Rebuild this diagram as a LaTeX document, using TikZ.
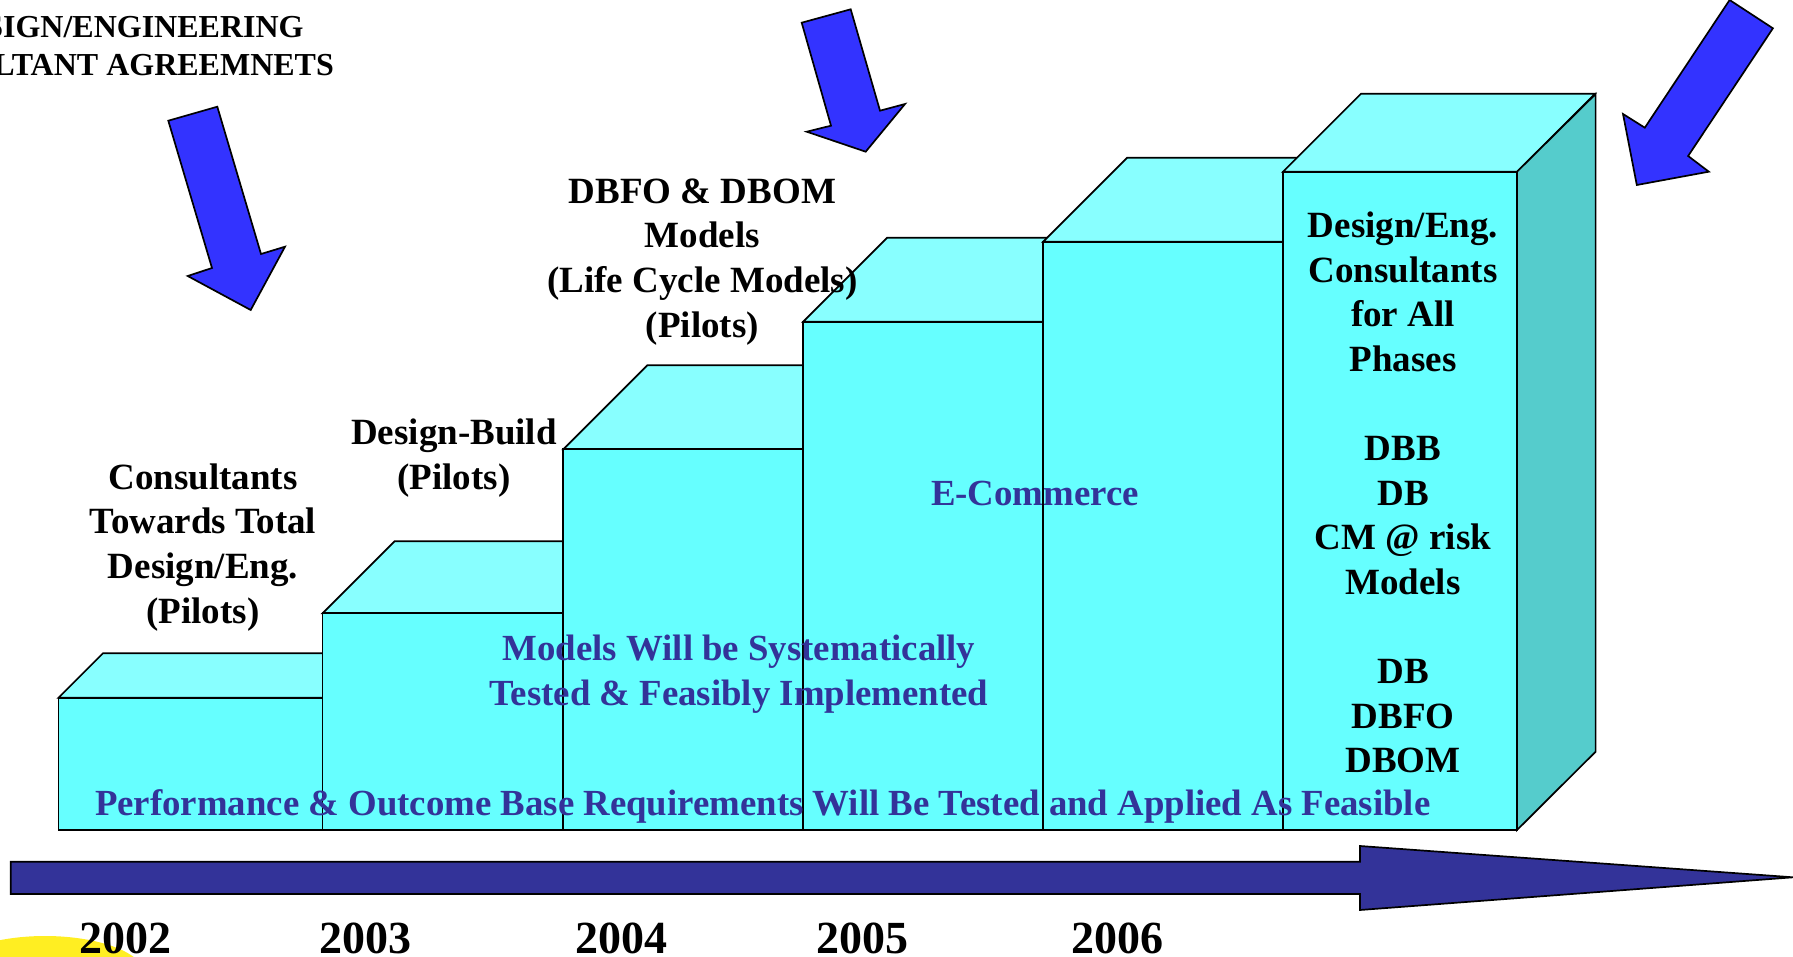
\documentclass[tikz,border=0pt]{standalone}
\usepackage{fontspec}
\setmainfont{Liberation Serif}
\definecolor{frontc}{RGB}{102,255,255}
\definecolor{topc}{RGB}{136,255,255}
\definecolor{sidec}{RGB}{85,204,204}
\definecolor{tblue}{RGB}{51,51,153}
\definecolor{arrblue}{RGB}{51,51,255}
\definecolor{yel}{RGB}{255,238,34}
\newcommand\cubestep[4]{%
  \filldraw[topface] (#1,#3) -- ++(#4,-#4) -- ({#2+#4},{#3-#4}) -- (#2,#3) -- cycle;
  \filldraw[frontface] (#1,#3) rectangle (#2,830);
}
\tikzset{
  edge/.style={draw=black, line width=0.85pt, line join=miter},
  topface/.style={edge, fill=topc},
  frontface/.style={edge, fill=frontc},
  sideface/.style={edge, fill=sidec},
  bluearrow/.style={edge, fill=arrblue},
  timearrow/.style={edge, fill=tblue},
  lbl/.style={font=\fontsize{18.5}{22.3}\selectfont\bfseries, align=center, inner sep=0pt, text=black},
  blu/.style={font=\fontsize{18.4}{22.3}\selectfont\bfseries, align=center, inner sep=0pt, text=tblue},
  yr/.style={font=\fontsize{23}{27}\selectfont\bfseries, inner sep=0pt, text=black},
  tl/.style={font=\fontsize{16}{19.35}\selectfont\bfseries, inner sep=0pt, text=black}
}
\begin{document}
\begin{tikzpicture}[x={(0.5pt,0pt)}, y={(0pt,-0.5pt)}]
\useasboundingbox (0,0) rectangle (1793,957);
\begin{scope}
\clip (0,0) rectangle (1793,957);
% yellow template shape
\fill[yel] (45,975) ellipse [x radius=100, y radius=39];

% steps
\cubestep{58.5}{322.6}{697.7}{44.5}
\cubestep{322.6}{563.3}{613.3}{72}
\cubestep{563.3}{803.1}{449.3}{84}
\cubestep{803.1}{1043.2}{321.7}{84}
\cubestep{1043.2}{1283}{241.7}{84}
\cubestep{1283}{1517}{171.7}{78}
\filldraw[sideface] (1517,171.7) -- (1595.6,94) -- (1595.6,751.7) -- (1517,830) -- cycle;

% time arrow
\filldraw[timearrow] (10.7,861.7) -- (1360,861.7) -- (1360,846) -- (1793,877.3) -- (1360,910) -- (1360,894) -- (10.7,894) -- cycle;

% blue arrows
\filldraw[bluearrow] (168.3,120.7) -- (217.3,106.7) -- (261,254) -- (285,246.7) -- (250.7,310) -- (187.7,276) -- (212,268) -- cycle;
\filldraw[bluearrow] (801.7,22.7) -- (850.7,9.3) -- (880,110.7) -- (905,104) -- (865.7,151.7) -- (806.7,131.7) -- (831,125.7) -- cycle;
\filldraw[bluearrow] (1729.6,0) -- (1772.9,28.3) -- (1688.1,156) -- (1708.8,171.7) -- (1636.8,185) -- (1623,114) -- (1644.8,127.7) -- cycle;
\end{scope}

% top-left text (cut by the page edge)
\node[tl, anchor=base east] (tl1) at (304,37.3) {SIGN/ENGINEERING};
\node[tl, anchor=base east] (tl2) at (334.3,76) {LTANT AGREEMNETS};

% labels (anchor base = baseline of the last line)
\node[lbl, anchor=base] (c1) at (203,623.1) {Consultants\\Towards Total\\Design/Eng.\\(Pilots)};
\node[lbl, anchor=base] (c2) at (454,489.3) {Design-Build\\(Pilots)};
\node[lbl, anchor=base] (c3) at (702.5,337) {DBFO \& DBOM\\Models\\(Life Cycle Models)\\(Pilots)};
\node[lbl, anchor=base] (c6) at (1403,772.8) {Design/Eng.\\Consultants\\for All\\Phases\\[22.3pt]DBB\\DB\\CM @ risk\\Models\\[22.3pt]DB\\DBFO\\DBOM};

% blue texts
\node[blu, anchor=base] (ecom) at (1035,505) {E-Commerce};
\node[blu, anchor=base] (sys) at (739,705) {Models Will be Systematically\\Tested \& Feasibly Implemented};
\node[blu, anchor=base] (perf) at (762.7,815) {Performance \& Outcome Base Requirements Will Be Tested and Applied As Feasible};

% years
\node[yr, anchor=base] (y2002) at (125.5,953) {2002};
\node[yr, anchor=base] (y2003) at (365.5,953) {2003};
\node[yr, anchor=base] (y2004) at (621.5,953) {2004};
\node[yr, anchor=base] (y2005) at (862.5,953) {2005};
\node[yr, anchor=base] (y2006) at (1117.6,953) {2006};
\end{tikzpicture}
\end{document}
